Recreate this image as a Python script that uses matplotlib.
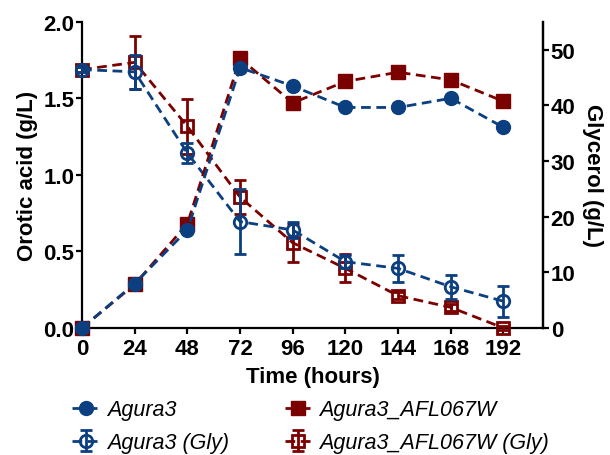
import matplotlib
matplotlib.use("Agg")
import matplotlib.pyplot as plt
from matplotlib.ticker import FormatStrFormatter

# ---- data ----
time_h = [0, 24, 48, 72, 96, 120, 144, 168, 192]
xticks = [0, 24, 48, 72, 96, 120, 144, 168, 192]

orotic_agura3 = [0.0, 0.29, 0.64, 1.70, 1.58, 1.44, 1.44, 1.50, 1.31]
orotic_afl = [0.0, 0.285, 0.68, 1.76, 1.47, 1.61, 1.67, 1.62, 1.48]

gly_agura3 = [46.4, 46.0, 31.4, 19.1, 17.6, 11.9, 10.7, 7.4, 4.8]
gly_agura3_err = [0.5, 3.0, 1.8, 5.9, 1.5, 1.2, 2.4, 2.2, 2.8]
gly_afl = [46.4, 47.7, 36.2, 23.5, 15.3, 10.7, 5.8, 3.7, 0.0]
gly_afl_err = [0.5, 4.8, 4.9, 3.1, 3.4, 2.5, 0.6, 0.6, 0.3]

labels = ["Agura3", "Agura3 (Gly)", "Agura3_AFL067W", "Agura3_AFL067W (Gly)"]

blue = "#0b3f80"
red = "#7b0000"

plt.rcParams['font.family'] = ['Liberation Sans', 'DejaVu Sans']

fig = plt.figure(figsize=(6.10, 4.56), dpi=100)
ax = fig.add_axes([82/610, 1-329/456, (543-82)/610, (329-22.7)/456])
ax2 = ax.twinx()

scale = 55 / 2.0  # right-axis units per left-axis unit
lw = 2.0
dash = (0, (3.5, 2))
h_gly_afl = ax2.errorbar(time_h, gly_afl, yerr=gly_afl_err, color=red, ls=dash, lw=lw,
                         marker='s', ms=8.5, mfc='none', mec=red, mew=2, capsize=4.5, capthick=2,
                         elinewidth=2, zorder=2, clip_on=False)
h_gly_ag = ax2.errorbar(time_h, gly_agura3, yerr=gly_agura3_err, color=blue, ls=dash, lw=lw,
                        marker='o', ms=9, mfc='none', mec=blue, mew=2, capsize=4.5, capthick=2,
                        elinewidth=2, zorder=3, clip_on=False)
h_or_afl, = ax2.plot(time_h, [v * scale for v in orotic_afl], color=red, ls=dash, lw=lw,
                     marker='s', ms=9.5, mfc=red, mec=red, zorder=4, clip_on=False)
h_or_ag, = ax2.plot(time_h, [v * scale for v in orotic_agura3], color=blue, ls=dash, lw=lw,
                    marker='o', ms=10, mfc=blue, mec=blue, zorder=5, clip_on=False)

ax.set_xlim(0, 210)
ax.set_ylim(0, 2.0)
ax2.set_ylim(0, 55)
ax.set_xticks(xticks)
ax.set_yticks([0, 0.5, 1.0, 1.5, 2.0])
ax.yaxis.set_major_formatter(FormatStrFormatter('%.1f'))
ax2.set_yticks([0, 10, 20, 30, 40, 50])

for a in (ax, ax2):
    a.spines['top'].set_visible(False)
    for s in a.spines.values():
        s.set_linewidth(1.6)
    a.tick_params(width=1.6, length=4, labelsize=16, direction='out', pad=1.5)
    for t in a.get_xticklabels() + a.get_yticklabels():
        t.set_fontweight('bold')
ax.tick_params(axis='x', pad=3)
ax2.spines['left'].set_visible(False)
ax2.spines['bottom'].set_visible(False)

ax.set_xlabel("Time (hours)", fontsize=16, fontweight='bold', labelpad=5)
ax.set_ylabel("Orotic acid (g/L)", fontsize=16, fontweight='bold', labelpad=4)
ax2.set_ylabel("Glycerol (g/L)", fontsize=16, fontweight='bold', rotation=270, labelpad=20)

handles = [h_or_ag, h_gly_ag, h_or_afl, h_gly_afl]
leg = fig.legend(handles, labels, ncol=2, loc='upper left', bbox_to_anchor=(53/610, 1-381/456),
                 frameon=False, prop={'style': 'italic', 'size': 15.5}, handlelength=1.25,
                 handletextpad=0.35, columnspacing=2.6, labelspacing=0.55)

fig.savefig("out.png", dpi=100)
